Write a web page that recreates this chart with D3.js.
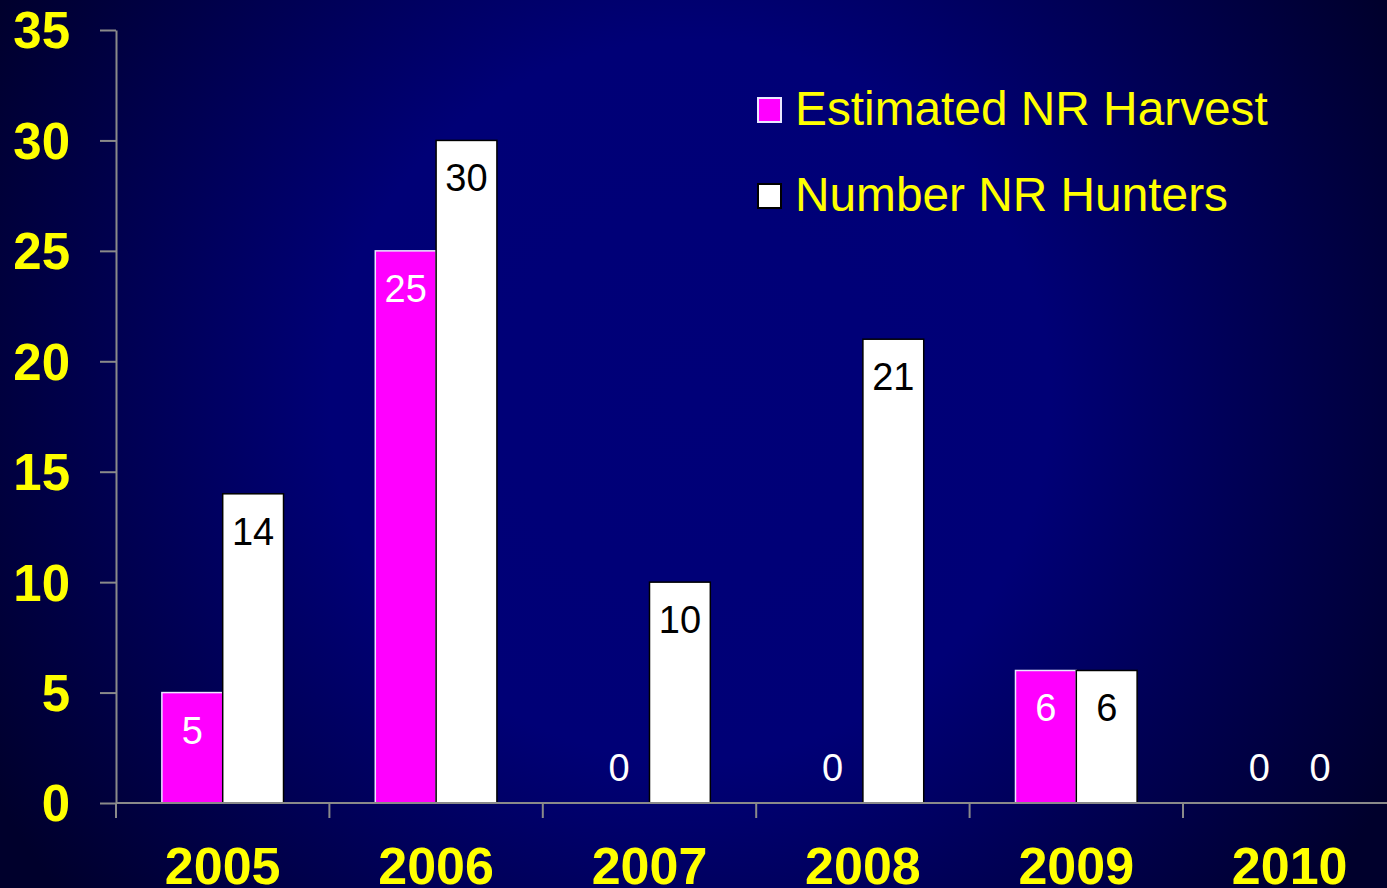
<!DOCTYPE html>
<html>
<head>
<meta charset="utf-8">
<script src="https://cdn.jsdelivr.net/npm/d3@7/dist/d3.min.js"></script>
<style>
  html, body { margin: 0; padding: 0; background: #000040; }
  svg { display: block; }
</style>
</head>
<body>
<script>
// Non-resident harvest and hunter counts by season
const years = ["2005", "2006", "2007", "2008", "2009", "2010"];
const seriesNames = ["Estimated NR Harvest", "Number NR Hunters"];
const harvest = [5, 25, 0, 0, 6, 0];
const hunters = [14, 30, 10, 21, 6, 0];
const yTicks = [0, 5, 10, 15, 20, 25, 30, 35];

const W = 1387, H = 888;
const margin = { left: 116, top: 30, bottom: 803 };
const fills = ["#ff00ff", "#ffffff"];
const strokes = ["#e8e8ff", "#000000"];
const labelColors = ["#ffffff", "#000000"];

const svg = d3.select("body").append("svg")
  .attr("width", W).attr("height", H);

// background: soft navy radial glow
const defs = svg.append("defs");
const grad = defs.append("radialGradient")
  .attr("id", "bg").attr("gradientUnits", "userSpaceOnUse")
  .attr("cx", 690).attr("cy", 400).attr("r", 800);
grad.append("stop").attr("offset", "0").attr("stop-color", "#000078");
grad.append("stop").attr("offset", "0.45").attr("stop-color", "#000076");
grad.append("stop").attr("offset", "1").attr("stop-color", "#00002c");
svg.append("rect").attr("width", W).attr("height", H).attr("fill", "url(#bg)");

const y = d3.scaleLinear().domain([0, 35]).range([margin.bottom, margin.top]);
const x0 = d3.scaleBand().domain(years)
  .range([margin.left, margin.left + 6 * 213.4])
  .paddingInner(0.43).paddingOuter(0.215);
const x1 = d3.scaleBand().domain(seriesNames).range([0, x0.bandwidth()]);

const rows = years.map((yr, i) => ({ year: yr, values: [harvest[i], hunters[i]] }));

// bars
const groups = svg.append("g").selectAll("g").data(rows).join("g")
  .attr("transform", d => `translate(${x0(d.year)},0)`);

groups.selectAll("rect")
  .data(d => d.values.map((v, k) => ({ v, k })).filter(e => e.v > 0))
  .join("rect")
  .attr("x", e => x1(seriesNames[e.k]))
  .attr("y", e => y(e.v))
  .attr("width", x1.bandwidth())
  .attr("height", e => y(0) - y(e.v))
  .attr("fill", e => fills[e.k])
  .attr("stroke", e => strokes[e.k])
  .attr("stroke-width", 1.5);

// value labels
groups.selectAll("text")
  .data(d => d.values.map((v, k) => ({ v, k })))
  .join("text")
  .attr("x", e => x1(seriesNames[e.k]) + x1.bandwidth() / 2)
  .attr("y", e => e.v > 0 ? y(e.v) + 51 : y(0) - 22)
  .attr("text-anchor", "middle")
  .attr("font-family", "Liberation Sans, Arial, sans-serif")
  .attr("font-size", 38)
  .attr("fill", e => e.v > 0 ? labelColors[e.k] : "#ffffff")
  .text(e => e.v);

// y axis
const axisColor = "#8a8a8a";
const yAxis = svg.append("g")
  .attr("transform", `translate(${margin.left},0)`)
  .call(d3.axisLeft(y).tickValues(yTicks).tickSize(16).tickPadding(30).tickSizeOuter(0));
yAxis.select(".domain").attr("stroke", axisColor).attr("stroke-width", 2);
yAxis.selectAll(".tick line").attr("stroke", axisColor).attr("stroke-width", 2);
yAxis.selectAll(".tick text")
  .attr("fill", "#ffff00")
  .attr("font-family", "Liberation Sans, Arial, sans-serif")
  .attr("font-weight", "bold")
  .attr("font-size", 51)
  .attr("dy", "0.35em");

// x axis line and category separators
svg.append("line")
  .attr("x1", margin.left).attr("x2", W)
  .attr("y1", y(0)).attr("y2", y(0))
  .attr("stroke", axisColor).attr("stroke-width", 2);
const sepX = years.map(d => x0(d) - x0.step() * x0.paddingInner() / 2);
svg.append("g").selectAll("line").data(sepX).join("line")
  .attr("x1", d => d).attr("x2", d => d)
  .attr("y1", y(0)).attr("y2", y(0) + 15)
  .attr("stroke", axisColor).attr("stroke-width", 2);

svg.append("g").selectAll("text").data(years).join("text")
  .attr("x", d => x0(d) + x0.bandwidth() / 2)
  .attr("y", 884)
  .attr("text-anchor", "middle")
  .attr("fill", "#ffff00")
  .attr("font-family", "Liberation Sans, Arial, sans-serif")
  .attr("font-weight", "bold")
  .attr("font-size", 52)
  .text(d => d);

// legend
const legend = svg.append("g").attr("transform", "translate(758,0)");
const legendRows = seriesNames.map((n, k) => ({ n, k, cy: [110, 196][k] }));
legend.selectAll("rect").data(legendRows).join("rect")
  .attr("x", 0).attr("y", d => d.cy - 12)
  .attr("width", 23).attr("height", 24)
  .attr("fill", d => fills[d.k])
  .attr("stroke", d => d.k === 0 ? "#e8e8ff" : "#000000")
  .attr("stroke-width", 2);
legend.selectAll("text").data(legendRows).join("text")
  .attr("x", 37).attr("y", d => d.cy + 15)
  .attr("fill", "#ffff00")
  .attr("font-family", "Liberation Sans, Arial, sans-serif")
  .attr("font-size", 47.8)
  .text(d => d.n);
</script>
</body>
</html>
